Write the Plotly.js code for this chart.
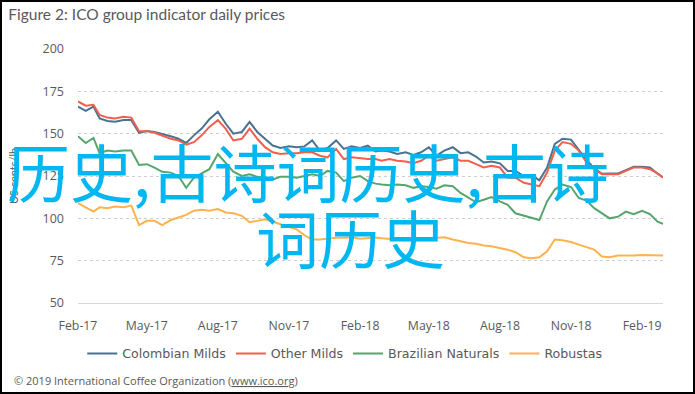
<!DOCTYPE html>
<html>
<head>
<meta charset="utf-8">
<script src="https://cdn.plot.ly/plotly-3.0.1.min.js"></script>
<style>
html,body{margin:0;padding:0;background:#fff;}
#wrap{position:relative;width:695px;height:394px;}
#chart{width:695px;height:394px;}
#frame{position:absolute;left:0;top:0;width:695px;height:394px;box-sizing:border-box;border:2px solid #000;pointer-events:none;}
</style>
</head>
<body>
<div id="wrap"><div id="chart"></div><div id="frame"></div></div>
<script>
const dates = [
'2017-02-01','2017-02-11','2017-02-21','2017-03-01','2017-03-11','2017-03-21',
'2017-04-01','2017-04-11','2017-04-21','2017-05-01','2017-05-11','2017-05-21',
'2017-06-01','2017-06-11','2017-06-21','2017-07-01','2017-07-11','2017-07-21',
'2017-08-01','2017-08-11','2017-08-21','2017-09-01','2017-09-11','2017-09-21',
'2017-10-01','2017-10-11','2017-10-21','2017-11-01','2017-11-11','2017-11-21',
'2017-12-01','2017-12-11','2017-12-21','2018-01-01','2018-01-11','2018-01-21',
'2018-02-01','2018-02-11','2018-02-21','2018-03-01','2018-03-11','2018-03-21',
'2018-04-01','2018-04-11','2018-04-21','2018-05-01','2018-05-11','2018-05-21',
'2018-06-01','2018-06-11','2018-06-21','2018-07-01','2018-07-11','2018-07-21',
'2018-08-01','2018-08-11','2018-08-21','2018-09-01','2018-09-11','2018-09-21',
'2018-10-01','2018-10-11','2018-10-21','2018-11-01','2018-11-11','2018-11-21',
'2018-12-01','2018-12-11','2018-12-21','2019-01-01','2019-01-11','2019-01-21',
'2019-02-01','2019-02-11','2019-02-21','2019-02-28'];

const colombianMilds = [
166,163.5,166, 159,157.5,157, 158,158,150.5, 151.5,151,150, 148.5,147,144.5,
149,153,158.5, 163,156,150, 151,157,151, 147,143,141.5, 142.5,142,142.5,
146,140,141.5, 146,141,142.5, 141.5,143,139.5, 140,139.5,138, 139,137.5,139,
142,137,140, 142,138.5,139, 136.5,133,133.5, 132.5,128,128, 125,125.5,122.5,
130,144,147, 146.5,140.5,134.5, 129.5,126.3,126.5, 126.5,128.5,130.5, 130.5,130,126.3, 124.3];

const otherMilds = [
169,166.5,167, 161,159.5,159, 160,159.5,151.5, 151.5,150.5,149, 147,146,143.5,
145,149,154, 158,153,146, 147,153,147, 142,139,138, 138.5,138.5,139,
139,137,136, 141,135,136, 135.5,135,135, 134,135,134, 133.5,132.5,134,
137,134,135, 136,134,134, 132,130,131, 130,124,124, 121,120,119,
127,140,145, 144,140,133, 129,126,126, 126,128,130, 130,129,126.5, 124];

const brazilianNaturals = [
148.5,144.5,147.5, 138.5,140,139.5, 140,140,131.5, 132,130,127.5, 127,125,118,
124,126.5,129, 138,133,127.5, 125,126,124.5, 123.5,123,124.5, 124.5,124,125,
126,125,128, 127,122,124, 125,122,120.5, 120,119.5,120, 119.5,118,119,
118.5,117.5,119.5, 119,115,112.5, 109.5,111,112.5, 110,108,103, 101.5,100,99,
110,117,120, 118.5,112,110.5, 106,103,100, 101,104,102.5, 104.5,102.5,98, 96.7];

const robustas = [
109,106.5,104, 106.5,106,107, 106.5,107.5,96, 98.5,98.5,96, 99,100.5,102,
104.5,105,104.5, 105.5,103.5,103, 101.5,97.7,98.5, 99.5,98,96.5, 95,93.5,90,
87.5,87.5,88, 88.5,88.5,88.8, 88,88.5,88.7, 88.2,88,87.5, 87.8,87,87.8,
88,88.5,88.8, 87.5,86.5,85.5, 85,84,83.5, 82.5,81.5,80, 77,76.5,77,
80.5,87.5,87, 86,84.5,83, 81.5,77.5,77, 78,77.8,78, 78.3,78.2,77.8, 78];

const seriesNames = ['Colombian Milds','Other Milds','Brazilian Naturals','Robustas'];
const seriesValues = [colombianMilds, otherMilds, brazilianNaturals, robustas];
const seriesColors = ['#4a7391','#f2604c','#55a66d','#fdb24c'];

const titleText = 'Figure 2: ICO group indicator daily prices';
const yTitle = 'US cents/lb';
const footer = '© 2019 International Coffee Organization (<u>www.ico.org</u>)';
const watermark1 = '历史,古诗词历史,古诗';
const watermark2 = '词历史';

const FONT = 'Lato, "Open Sans", sans-serif';
const TICKFONT = '"Open Sans", sans-serif';
const GREY = '#595959';
const CJK = '"Noto Sans CJK SC", sans-serif';
const CYAN = '#00b7f1';

const traces = seriesNames.map((n, i) => ({
  type: 'scatter', mode: 'lines', name: n,
  x: dates, y: seriesValues[i],
  line: {color: seriesColors[i], width: 2}
}));

const layout = {
  width: 695, height: 394,
  margin: {l: 78, r: 32, t: 49, b: 91},
  paper_bgcolor: '#fff', plot_bgcolor: '#fff',
  font: {family: FONT, color: GREY, size: 12},
  title: {text: titleText, x: 0.012, xanchor: 'left', xref: 'container',
          y: 0.964, yanchor: 'middle', yref: 'container',
          font: {family: FONT, size: 15.5, color: GREY}},
  showlegend: true,
  legend: {orientation: 'h', x: 0.456, xanchor: 'center', y: -0.2, yanchor: 'middle',
           font: {family: '"DejaVu Sans", sans-serif', size: 12.6, color: GREY}, traceorder: 'normal',
           itemwidth: 30},
  xaxis: {type: 'date', range: ['2017-02-01','2019-02-28'],
          tick0: '2017-02-01', dtick: 'M3', tickformat: '%b-%y',
          showgrid: false, zeroline: false, showline: true, linecolor: '#d9d9d9', linewidth: 1,
          ticks: '', ticklabelstandoff: 11,
          tickfont: {family: TICKFONT, size: 12.3, color: GREY}},
  yaxis: {range: [50, 200], dtick: 25, tick0: 50,
          showgrid: true, gridcolor: '#cfcfcf', griddash: 'dot', gridwidth: 1,
          zeroline: false, showline: false, ticks: '', ticklabelstandoff: 13,
          tickfont: {family: TICKFONT, size: 12.5, color: GREY}},
  annotations: [
    {text: yTitle, xref: 'paper', yref: 'paper', x: -0.111, y: 0.5, textangle: -90,
     showarrow: false, font: {family: FONT, size: 11, color: GREY}, xanchor: 'center', yanchor: 'middle'},
    {text: footer, xref: 'paper', yref: 'paper', x: -0.113, y: -0.307, xanchor: 'left', yanchor: 'middle',
     showarrow: false, font: {family: TICKFONT, size: 11, color: GREY}},
    {text: watermark1, xref: 'paper', yref: 'paper', x: 0.393, y: 0.527, xanchor: 'center', yanchor: 'middle',
     showarrow: false, font: {family: CJK, size: 63, color: CYAN}},
    {text: watermark2, xref: 'paper', yref: 'paper', x: 0.465, y: 0.265, xanchor: 'center', yanchor: 'middle',
     showarrow: false, font: {family: CJK, size: 63, color: CYAN}}
  ]
};

Plotly.newPlot('chart', traces, layout, {displayModeBar: false, staticPlot: true});
</script>
</body>
</html>
